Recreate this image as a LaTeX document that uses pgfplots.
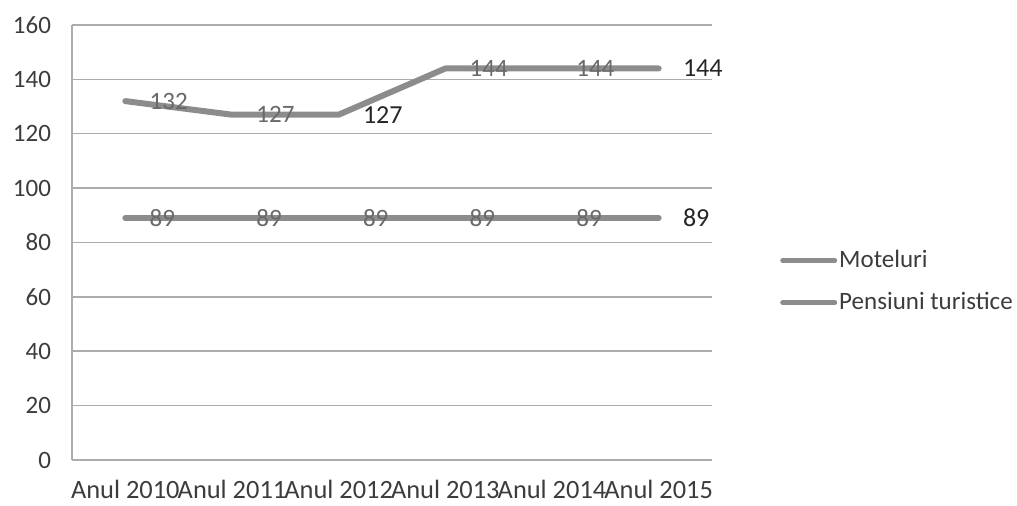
\documentclass[border=0pt]{standalone}
\usepackage{pgfplots}
\pgfplotsset{compat=1.18}
\usepackage{fontspec}
\setmainfont{Carlito}
\definecolor{linegray}{RGB}{140,140,140}
\definecolor{gridgray}{RGB}{172,172,172}
\definecolor{labgray}{RGB}{105,105,105}
\definecolor{txt}{RGB}{60,60,60}
\begin{document}
\begin{tikzpicture}
\path[use as bounding box] (-36pt,-23pt) rectangle (472.5pt,230pt);
\begin{axis}[
  at={(0,0)}, anchor=south west,
  scale only axis, width=320pt, height=217.5pt,
  xmin=-0.5, xmax=5.5, ymin=0, ymax=160,
  ytick={0,20,...,160},
  xtick={0,1,2,3,4,5},
  xticklabels={Anul 2010,Anul 2011,Anul 2012,Anul 2013,Anul 2014,Anul 2015},
  axis x line*=bottom, axis y line*=left,
  axis line style={gridgray, line width=0.75pt, -},
  ymajorgrids, grid style={gridgray, line width=0.75pt},
  major tick length=0pt,
  tick label style={font=\fontsize{12.5}{14}\selectfont, text=txt},
  yticklabel style={xshift=-7pt},
  xticklabel style={yshift=-6.5pt, font=\fontsize{13.2}{15}\selectfont},
  /pgf/number format/assume math mode=true,
  clip=false,
  legend style={at={(1.106,0.41)}, anchor=west, draw=none, fill=none,
    font=\fontsize{12.5}{14}\selectfont, text=txt, row sep=9pt, inner sep=0pt,
    nodes={inner sep=1pt}},
  legend cell align=left,
  legend image code/.code={\draw[linegray, line width=2.5pt] (0pt,0pt) -- (26pt,0pt);},
]
\addplot[linegray, line width=3pt, line cap=round, line join=round]
  coordinates {(0,132) (1,127) (2,127) (3,144) (4,144) (5,144)};
\addlegendentry{Moteluri}
\addplot[linegray, line width=3pt, line cap=round, line join=round]
  coordinates {(0,89) (1,89) (2,89) (3,89) (4,89) (5,89)};
\addlegendentry{Pensiuni turistice}
\addplot[draw=none, forget plot, nodes near coords,
  nodes near coords style={anchor=west, inner sep=0pt, xshift=12pt, text=labgray, font=\fontsize{12.5}{14}\selectfont}]
  coordinates {(0,132) (1,127) (3,144) (4,144) (0,89) (1,89) (2,89) (3,89) (4,89)};
\addplot[draw=none, forget plot, nodes near coords,
  nodes near coords style={anchor=west, inner sep=0pt, xshift=12pt, text=black!85, font=\fontsize{13}{15}\selectfont}]
  coordinates {(2,127) (5,144) (5,89)};
\end{axis}
\end{tikzpicture}
\end{document}
